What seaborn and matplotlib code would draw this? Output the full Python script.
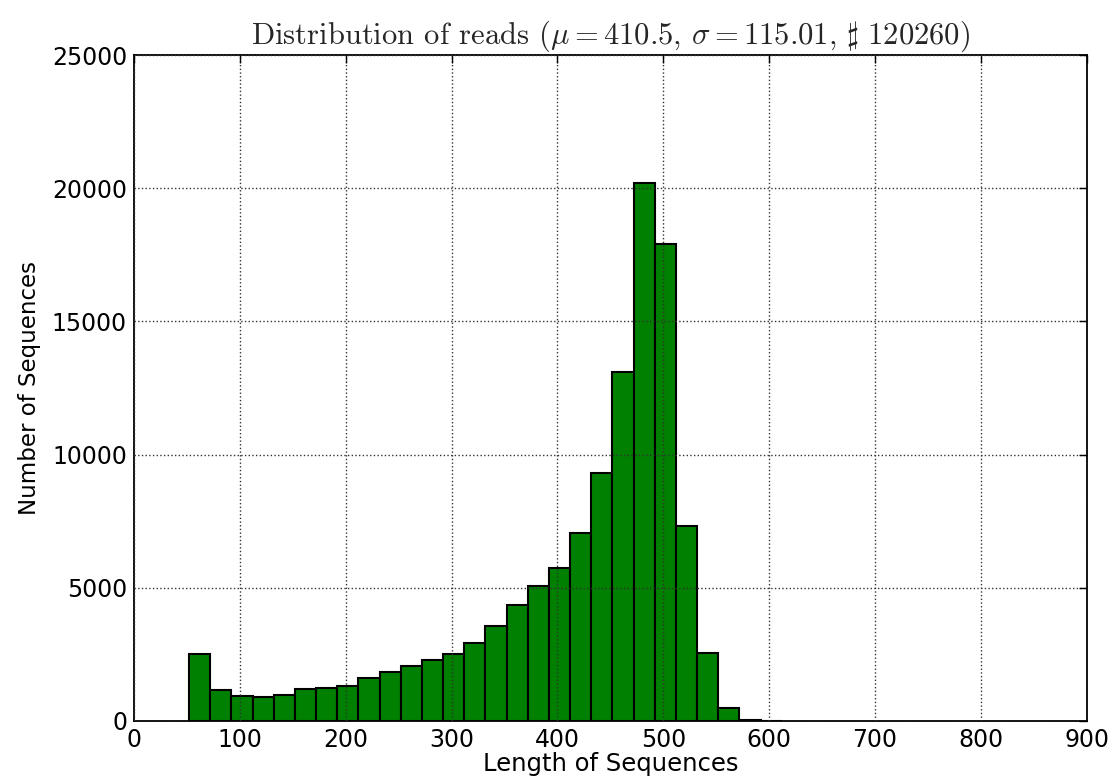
import numpy as np
import pandas as pd
import matplotlib
matplotlib.use("Agg")
import matplotlib.pyplot as plt
import seaborn as sns

# ---- data ----
bin_start = 52
bin_width = 20
counts = [2530, 1170, 950, 900, 990, 1200, 1240, 1320, 1610, 1840,
          2050, 2290, 2500, 2910, 3560, 4350, 5060, 5750, 7050, 9300,
          13100, 20200, 17900, 7330, 2550, 500, 50, 10]
title_text = r"Distribution of reads ($\mu=410.5$, $\sigma=115.01$, $\sharp\ 120260$)"
xlabel = "Length of Sequences"
ylabel = "Number of Sequences"
xticks = [0, 100, 200, 300, 400, 500, 600, 700, 800, 900]
yticks = [0, 5000, 10000, 15000, 20000, 25000]

edges = [bin_start + bin_width * i for i in range(len(counts) + 1)]
centers = [(edges[i] + edges[i + 1]) / 2 for i in range(len(counts))]
df = pd.DataFrame({"length": centers, "n": counts})

sns.set_style("white")
plt.rcParams["font.family"] = ["DejaVu Sans"]
plt.rcParams["mathtext.fontset"] = "cm"

fig = plt.figure(figsize=(11.11, 7.78), dpi=100)
ax = fig.add_axes([0.1206, 0.0733, 0.8575, 0.856])

sns.histplot(data=df, x="length", weights="n", bins=edges, ax=ax,
             color="#008000", edgecolor="black", linewidth=1.5, alpha=1.0)

ax.set_xlim(0, 900)
ax.set_ylim(0, 25000)
ax.set_xticks(xticks)
ax.set_yticks(yticks)
ax.tick_params(axis="both", direction="in", length=6, width=1,
               labelsize=17, top=True, right=True, pad=5, colors="black")
ax.set_axisbelow(False)
ax.grid(True, color="#333333", linestyle=":", linewidth=1.0)
for s in ax.spines.values():
    s.set_visible(True)
    s.set_color("black")
    s.set_linewidth(1.3)

ax.set_xlabel(xlabel, fontsize=17.5, labelpad=0, color="black")
ax.set_ylabel(ylabel, fontsize=16.5, labelpad=8, color="black")
ax.set_title(title_text, fontsize=22, fontfamily="cmr10", pad=8)

fig.savefig("out.png", dpi=100)
